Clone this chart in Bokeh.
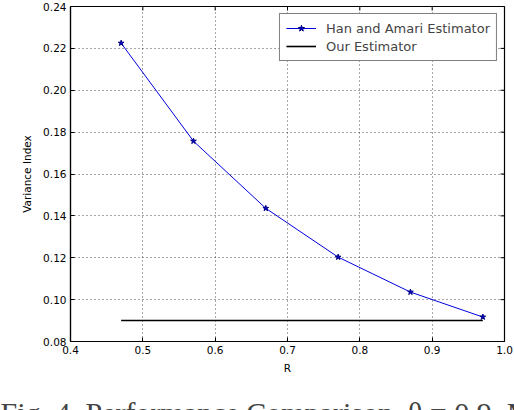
from bokeh.plotting import figure
from bokeh.models import Legend, LegendItem, FixedTicker, Label, Range1d, PrintfTickFormatter
from bokeh.embed import file_html
from bokeh.resources import INLINE


#data
r_values = [0.47, 0.57, 0.67, 0.77, 0.87, 0.97]
han_amari = [0.2225, 0.1757, 0.1436, 0.1203, 0.1036, 0.0917]
our_r = [0.47, 0.97]
our_estimator = [0.090, 0.090]
x_ticks = [0.4, 0.5, 0.6, 0.7, 0.8, 0.9, 1.0]
y_ticks = [0.08, 0.10, 0.12, 0.14, 0.16, 0.18, 0.20, 0.22, 0.24]
caption = "Fig. 4.  Performance  Comparison,  \u03b8 = 0.9,  M"

font = "DejaVu Sans"
x_lo, x_hi = 0.4, 1.0
y_lo, y_hi = 0.08, 0.24


#figure
p = figure(width=514, height=410, output_backend="svg", toolbar_location=None,
           x_range=Range1d(x_lo, x_hi), y_range=Range1d(y_lo, y_hi),
           min_border_left=70, min_border_right=10, min_border_top=6, min_border_bottom=69)
p.outline_line_color = "black"
p.outline_line_width = 1.2
p.background_fill_color = "white"
p.border_fill_color = "white"

for ax in [p.xaxis[0], p.yaxis[0]]:
    ax.major_label_text_font = font
    ax.major_label_text_font_size = "10.5px"
    ax.major_label_text_color = "black"
    ax.axis_label_text_font = font
    ax.axis_label_text_font_size = "10.5px"
    ax.axis_label_text_font_style = "normal"
    ax.axis_label_text_color = "black"
    ax.major_tick_in = 4
    ax.major_tick_out = 0
    ax.minor_tick_in = 0
    ax.minor_tick_out = 0
    ax.axis_line_color = "black"
    ax.axis_line_width = 1.2

p.xaxis.ticker = FixedTicker(ticks=x_ticks)
p.yaxis.ticker = FixedTicker(ticks=y_ticks)
p.xaxis.formatter = PrintfTickFormatter(format="%.1f")
p.yaxis.formatter = PrintfTickFormatter(format="%.2f")
p.xaxis.major_label_standoff = 4
p.yaxis.major_label_standoff = 4
p.xaxis.axis_label = "R"
p.yaxis.axis_label = "Variance Index"
p.xaxis.axis_label_standoff = 5
p.yaxis.axis_label_standoff = 7

p.grid.grid_line_color = "black"
p.grid.grid_line_dash = "1 3"
p.grid.grid_line_width = 0.7
p.xgrid.ticker = FixedTicker(ticks=x_ticks)
p.ygrid.ticker = FixedTicker(ticks=y_ticks)

#inward ticks on the top and right edges (4px long)
tick_y = 4 * (y_hi - y_lo) / 335
tick_x = 4 * (x_hi - x_lo) / 434
p.segment(x_ticks, [y_hi] * len(x_ticks), x_ticks, [y_hi - tick_y] * len(x_ticks), line_color="black", line_width=1)
p.segment([x_hi] * len(y_ticks), y_ticks, [x_hi - tick_x] * len(y_ticks), y_ticks, line_color="black", line_width=1)

#series
l1 = p.line(r_values, han_amari, line_color="#0000dd", line_width=1)
s1 = p.scatter(r_values, han_amari, marker="star", size=6, fill_color="#0000cc", line_color="#000080")
l2 = p.line(our_r, our_estimator, line_color="black", line_width=1.6)

legend = Legend(items=[LegendItem(label="Han and Amari Estimator", renderers=[l1, s1]),
                       LegendItem(label="Our Estimator", renderers=[l2])],
                location="top_right", margin=7, padding=6, spacing=2,
                glyph_width=30, glyph_height=16, label_standoff=10,
                label_text_font=font, label_text_font_size="13px",
                border_line_color="black", border_line_width=1,
                background_fill_alpha=1)
p.add_layout(legend)

#caption, mostly cut off at the bottom (in the side panel so it is not clipped to the frame)
p.add_layout(Label(x=-70, y=14, x_units="screen", y_units="screen", text=caption,
                   text_font="Liberation Serif", text_font_size="30px",
                   text_baseline="top", text_align="left"), "below")

open("out.html", "w").write(file_html(p, INLINE))
